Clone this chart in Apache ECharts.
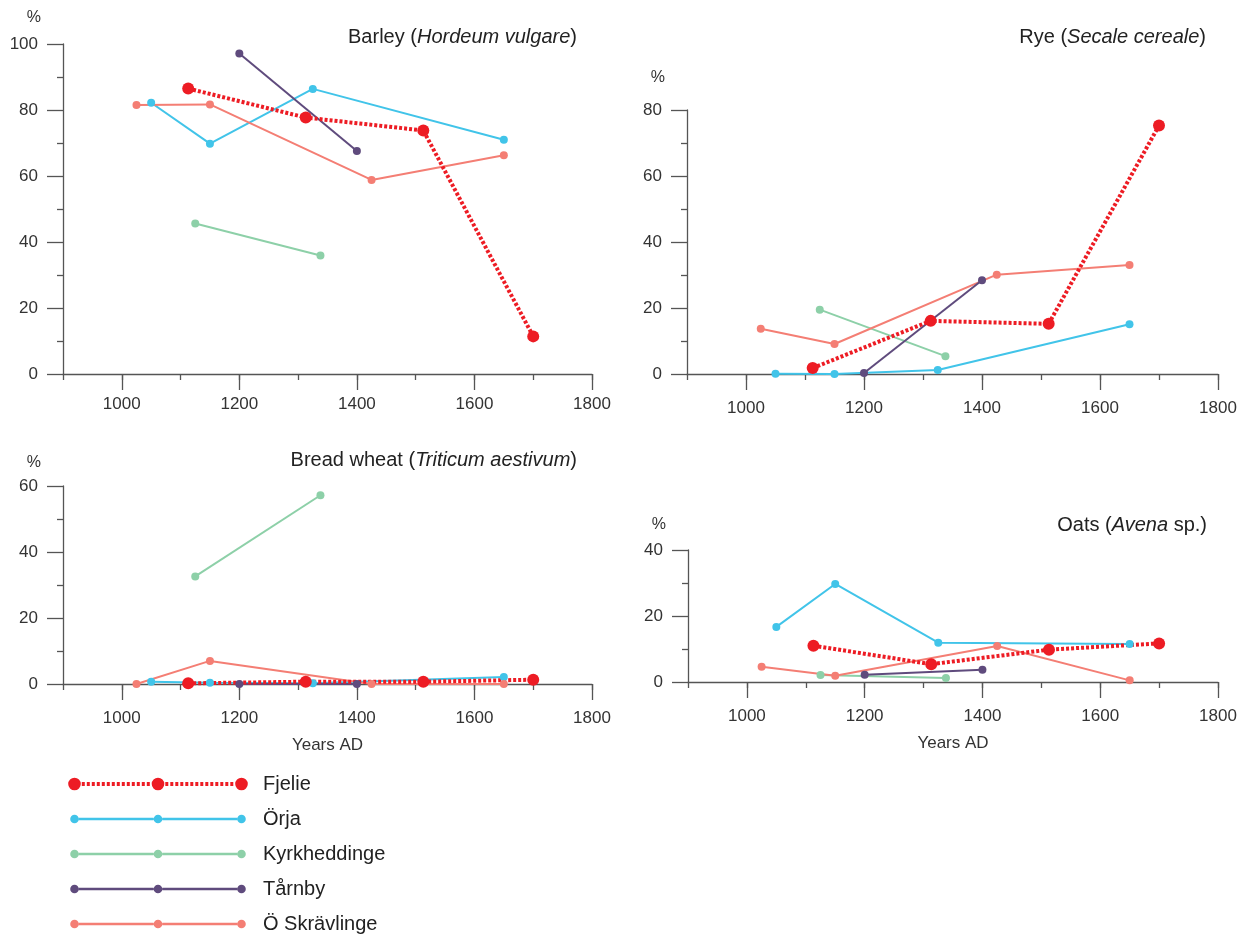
<!DOCTYPE html>
<html><head><meta charset="utf-8">
<script src="https://cdn.jsdelivr.net/npm/echarts@6/dist/echarts.min.js"></script>
<style>html,body{margin:0;padding:0;background:#fff}#c{width:1240px;height:934px}</style>
</head><body><div id="c"></div>
<script>
// ---- data ----
const sites = ['Fjelie', 'Örja', 'Kyrkheddinge', 'Tårnby', 'Ö Skrävlinge'];
const siteColors = ['#ed1c24', '#41c4e9', '#8dd0a8', '#5f4b7d', '#f47e74'];
const fjelieYears = [1113, 1313, 1513, 1700];
const orjaYears = [1050, 1150, 1325, 1650];
const kyrkYears = [1125, 1338];
const tarnbyYears = [1200, 1400];
const skravYears = [1025, 1150, 1425, 1650];
const siteYears = [fjelieYears, orjaYears, kyrkYears, tarnbyYears, skravYears];

// values per site, same order as sites
const barleyValues = [[86.5, 77.7, 73.8, 11.4], [82.2, 69.8, 86.4, 71.0], [45.6, 35.9], [97.1, 67.6], [81.5, 81.7, 58.8, 66.3]];
const ryeValues = [[1.8, 16.1, 15.2, 75.3], [0.1, 0, 1.2, 15.1], [19.5, 5.4], [0.3, 28.4], [13.7, 9.1, 30.1, 33.0]];
const wheatValues = [[0.2, 0.7, 0.7, 1.3], [0.7, 0.4, 0.2, 2.1], [32.6, 57.2], [0, 0], [0, 7.0, 0, 0]];
const oatsValues = [[11.0, 5.4, 9.8, 11.7], [16.7, 29.7, 11.9, 11.5], [2.1, 1.2], [2.2, 3.7], [4.6, 1.9, 10.9, 0.5]];
const cropValues = [barleyValues, ryeValues, wheatValues, oatsValues];

const cropTitles = ['Barley ({i|Hordeum vulgare})', 'Rye ({i|Secale cereale})', 'Bread wheat ({i|Triticum aestivum})', 'Oats ({i|Avena} sp.)'];
const yMaxes = [100, 80, 60, 40];
const xMin = 900, xMax = 1800, xStep = 100;
const xLabelTicks = [1000, 1200, 1400, 1600, 1800];

// ---- layout ----
const FONT = 'Liberation Sans, Arial, Helvetica, sans-serif';
const grids = [
  {left: 63, top: 44, width: 529, height: 330},
  {left: 687, top: 110, width: 531, height: 264},
  {left: 63, top: 486, width: 529, height: 198},
  {left: 688, top: 550, width: 530, height: 132}
];
const titlePos = [
  {right: 658, top: 22}, {right: 29, top: 22}, {right: 658, top: 445}, {right: 28, top: 510}
];
const pctGap = [18, 24, 15, 17];
const xLabelMargin = [22, 26, 26, 26];
const axisColor = '#555';

function legendIcon(big) {
  const W = 190, H = 13, cy = 6.5;
  const r = big ? 6.3 : 4.3;
  const cxs = [6.5, 90, 173.5];
  let p = 'M0 0 M' + W + ' ' + H + ' ';
  cxs.forEach(cx => {
    p += 'M' + (cx - r) + ' ' + cy + ' A' + r + ' ' + r + ' 0 1 0 ' + (cx + r) + ' ' + cy +
         ' A' + r + ' ' + r + ' 0 1 0 ' + (cx - r) + ' ' + cy + ' Z ';
  });
  for (let k = 0; k < 2; k++) {
    const x1 = cxs[k] + r, x2 = cxs[k + 1] - r;
    if (big) {
      for (let x = x1 + 1; x + 3 <= x2; x += 5) {
        p += 'M' + x + ' ' + (cy - 2) + ' h3 v4 h-3 Z ';
      }
    } else {
      p += 'M' + x1 + ' ' + (cy - 1.3) + ' H' + x2 + ' V' + (cy + 1.3) + ' H' + x1 + ' Z ';
    }
  }
  return 'path://' + p;
}

const series = [];
const drawOrder = [1, 2, 4, 3, 0];
for (let c = 0; c < 4; c++) {
  drawOrder.forEach(s => {
    const big = s === 0;
    series.push({
      type: 'line',
      name: sites[s],
      xAxisIndex: 2 * c,
      yAxisIndex: c,
      data: siteYears[s].map((x, i) => [x, cropValues[c][s][i]]),
      symbol: 'circle',
      symbolSize: big ? 12 : 8,
      showAllSymbol: true,
      lineStyle: {color: siteColors[s], width: big ? 4 : 2, type: big ? [3, 2] : 'solid'},
      itemStyle: {color: siteColors[s], borderWidth: 0},
      emphasis: {disabled: true},
      animation: false
    });
  });
}

const xAxes = [];
grids.forEach((g, c) => {
  // data axis: line + short ticks every 100 years
  xAxes.push({
    type: 'value', gridIndex: c, position: 'bottom',
    min: xMin, max: xMax, interval: xStep,
    axisLine: {show: true, onZero: false, lineStyle: {color: axisColor, width: 1.3}},
    axisTick: {show: true, length: 6, lineStyle: {color: axisColor, width: 1.3}},
    axisLabel: {show: false},
    splitLine: {show: false},
    name: c >= 2 ? 'Years AD' : '',
    nameLocation: 'middle',
    nameGap: 53,
    nameTextStyle: {fontFamily: FONT, fontSize: 17, color: '#333'}
  });
  // labelled axis: long ticks + labels every 200 years
  xAxes.push({
    type: 'value', gridIndex: c, position: 'bottom',
    min: xMin, max: xMax,
    axisLine: {show: false, onZero: false},
    axisTick: {show: true, length: 16, customValues: xLabelTicks, lineStyle: {color: axisColor, width: 1.3}},
    axisLabel: {
      show: true, customValues: xLabelTicks, fontFamily: FONT, fontSize: 17, color: '#333',
      margin: xLabelMargin[c], formatter: v => String(v)
    },
    splitLine: {show: false}
  });
});

const option = {
  backgroundColor: '#fff',
  animation: false,
  textStyle: {fontFamily: FONT},
  title: cropTitles.map((t, c) => ({
    text: t,
    right: titlePos[c].right,
    top: titlePos[c].top,
    textStyle: {
      fontFamily: FONT, fontSize: 20, fontWeight: 'normal', color: '#222',
      rich: {i: {fontFamily: FONT, fontSize: 20, fontStyle: 'italic', color: '#222'}}
    }
  })),
  legend: {
    orient: 'vertical',
    left: 63,
    top: 769,
    height: 200,
    itemWidth: 190,
    itemHeight: 13,
    itemGap: 15,
    textStyle: {fontFamily: FONT, fontSize: 20, color: '#222'},
    itemStyle: {borderWidth: 0},
    data: sites.map((n, s) => ({name: n, icon: legendIcon(s === 0), itemStyle: {color: siteColors[s], borderWidth: 0}}))
  },
  grid: grids,
  xAxis: xAxes,
  yAxis: grids.map((g, c) => ({
    type: 'value',
    gridIndex: c,
    min: 0, max: yMaxes[c], interval: 20,
    axisLine: {show: true, lineStyle: {color: axisColor, width: 1.3}},
    axisTick: {show: true, length: 16, lineStyle: {color: axisColor, width: 1.3}},
    minorTick: {show: true, splitNumber: 2, length: 6, lineStyle: {color: axisColor, width: 1.3}},
    axisLabel: {fontFamily: FONT, fontSize: 17, color: '#333', margin: 25},
    splitLine: {show: false},
    minorSplitLine: {show: false},
    name: '%',
    nameLocation: 'end',
    nameGap: pctGap[c],
    nameTextStyle: {fontFamily: FONT, fontSize: 16, color: '#333', align: 'right', padding: [0, 22, 0, 0]}
  })),
  series: series
};

const chart = echarts.init(document.getElementById('c'), null, {renderer: 'canvas'});
chart.setOption(option);
</script>
</body></html>
